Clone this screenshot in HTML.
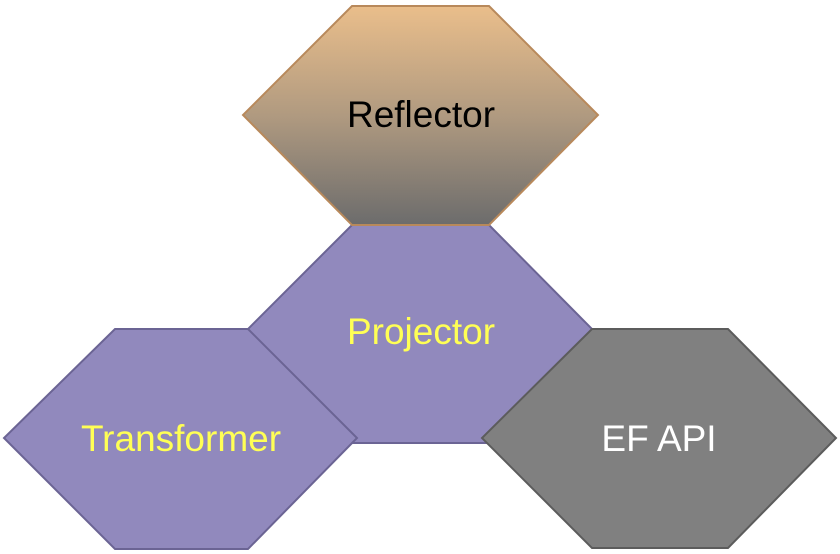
<!DOCTYPE html>
<html><head><style>html,body{margin:0;padding:0;background:#fff;width:840px;height:554px;overflow:hidden}</style></head>
<body>
<svg width="840" height="554" viewBox="0 0 840 554" xmlns="http://www.w3.org/2000/svg">
<defs><linearGradient id="g" x1="0" y1="0" x2="0" y2="1"><stop offset="0" stop-color="#EABE8B"/><stop offset="0.5" stop-color="#B09A80"/><stop offset="1" stop-color="#6C6C6C"/></linearGradient></defs>
<polygon points="352,225 489,225 592,329 489,443 352,443 248,329" fill="#9189BD" stroke="#6B6494" stroke-width="2"/>
<polygon points="352,6 489,6 598,115 489,225 352,225 243,115" fill="url(#g)" stroke="#B8895B" stroke-width="2"/>
<polygon points="115,329 248,329 357,438 248,549 115,549 4,438" fill="#9189BD" stroke="#6B6494" stroke-width="2"/>
<polygon points="592,329 728,329 836,438 728,548 592,548 482,438" fill="#808080" stroke="#5C5C5C" stroke-width="2"/>
<g font-family="Liberation Sans, sans-serif" font-size="37" text-anchor="middle">
<text x="421" y="127" fill="#000">Reflector</text>
<text x="421" y="344" fill="#FFFF55">Projector</text>
<text x="181" y="451" fill="#FFFF55">Transformer</text>
<text x="659" y="451" fill="#fff">EF API</text>
</g>
</svg>
</body></html>
